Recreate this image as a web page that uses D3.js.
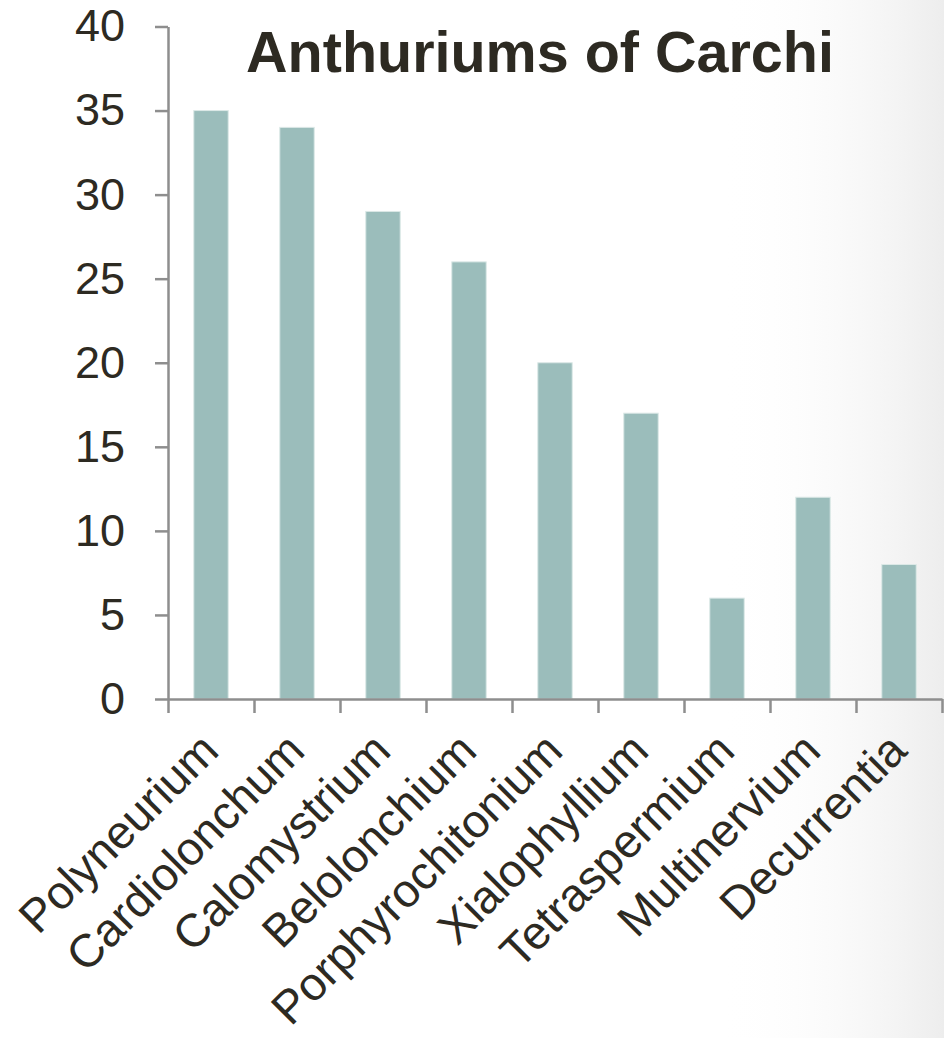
<!DOCTYPE html>
<html>
<head>
<meta charset="utf-8">
<script src="https://cdn.jsdelivr.net/npm/d3@7"></script>
<style>
  body { margin: 0; background: #fff; }
  text { font-family: "Liberation Sans", Arial, sans-serif; fill: #2d2a22; }
</style>
</head>
<body>
<div id="chart"></div>
<script>
var categories = ["Polyneurium", "Cardiolonchum", "Calomystrium", "Belolonchium",
    "Porphyrochitonium", "Xialophyllium", "Tetraspermium", "Multinervium", "Decurrentia"];
var counts = [35, 34, 29, 26, 20, 17, 6, 12, 8];
var yTicks = [0, 5, 10, 15, 20, 25, 30, 35, 40];
var title = "Anthuriums of Carchi";

var imgWidth = 944,
    imgHeight = 1038;
var margin = {top: 26.5, right: 2, bottom: 339, left: 168},
    width = imgWidth - margin.left - margin.right,
    height = imgHeight - margin.top - margin.bottom;

var svg = d3.select("#chart").append("svg")
    .attr("width", imgWidth)
    .attr("height", imgHeight);

// faint grey shading on the right side of the slide
var defs = svg.append("defs");
var grad = defs.append("linearGradient")
    .attr("id", "shade")
    .attr("x1", "0").attr("x2", "1").attr("y1", "0").attr("y2", "0");
grad.append("stop").attr("offset", "0").attr("stop-color", "#ffffff").attr("stop-opacity", 0);
grad.append("stop").attr("offset", "1").attr("stop-color", "#ededed").attr("stop-opacity", 1);
svg.append("rect")
    .attr("x", 720).attr("y", 0)
    .attr("width", 224).attr("height", imgHeight)
    .attr("fill", "url(#shade)");

var g = svg.append("g")
    .attr("transform", "translate(" + margin.left + "," + margin.top + ")");

var x = d3.scaleBand()
    .domain(categories)
    .range([0, width])
    .paddingInner(0.6)
    .paddingOuter(0.3);
var xEdges = d3.scaleLinear().domain([0, categories.length]).range([0, width]);
var y = d3.scaleLinear().domain([0, 40]).range([height, 0]);

g.selectAll(".bar")
    .data(counts)
    .enter().append("rect")
    .attr("class", "bar")
    .attr("fill", "#9bbdbb")
    .attr("stroke", "#dbe8e6")
    .attr("stroke-width", 1)
    .attr("x", function(d, i) { return x(categories[i]); })
    .attr("y", function(d) { return y(d); })
    .attr("width", x.bandwidth())
    .attr("height", function(d) { return height - y(d); });

var yAxis = g.append("g")
    .attr("class", "axis axis--y")
    .call(d3.axisLeft(y).tickValues(yTicks).tickSize(13).tickSizeOuter(0).tickPadding(30));
yAxis.selectAll("text")
    .style("font-size", "45px")
    .attr("fill", "#2d2a22");

var xAxis = g.append("g")
    .attr("class", "axis axis--x")
    .attr("transform", "translate(0," + height + ")")
    .call(d3.axisBottom(xEdges).tickValues(d3.range(categories.length + 1))
        .tickSize(14).tickSizeOuter(0).tickFormat(""));

svg.selectAll(".axis path, .axis line")
    .attr("stroke", "#8e8e8e")
    .attr("stroke-width", 2.5);

g.selectAll(".xlabel")
    .data(categories)
    .enter().append("text")
    .attr("class", "xlabel")
    .attr("text-anchor", "end")
    .attr("transform", function(d) {
        return "translate(" + (x(d) + x.bandwidth() / 2 + 10) + "," + (height + 54) + ") rotate(-45)";
    })
    .style("font-size", "46.5px")
    .text(function(d) { return d; });

svg.append("text")
    .attr("x", 540)
    .attr("y", 72)
    .attr("text-anchor", "middle")
    .style("font-size", "57.5px")
    .style("font-weight", "bold")
    .text(title);
</script>
</body>
</html>
